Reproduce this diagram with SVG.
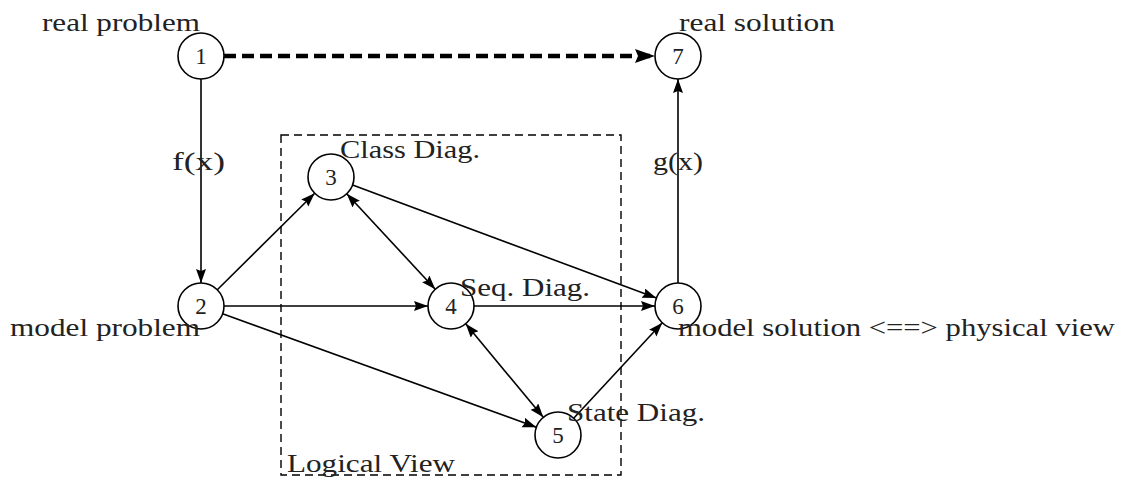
<svg xmlns="http://www.w3.org/2000/svg" width="1131" height="479" viewBox="0 0 1131 479">
<style>
.n{fill:#fff;stroke:#000;stroke-width:1.6}
.d{font-family:"Liberation Serif","Times New Roman",serif;font-size:23px;fill:#222;text-anchor:middle}
.t{font-family:"Liberation Serif","Times New Roman",serif;font-size:26px;fill:#222}
.e{stroke:#000;stroke-width:1.6;fill:none}
</style>
<defs>
<marker id="a" markerUnits="userSpaceOnUse" markerWidth="16" markerHeight="12" refX="14" refY="5" orient="auto-start-reverse">
<path d="M0,0 L14,5 L0,10 L2,5 z" fill="#000"/>
</marker>
<marker id="b" markerUnits="userSpaceOnUse" markerWidth="22" markerHeight="16" refX="20" refY="7" orient="auto">
<path d="M0,0 L20,7 L0,14 L3,7 z" fill="#000"/>
</marker>
</defs>
<rect x="281" y="135" width="340" height="340" fill="none" stroke="#000" stroke-width="1.4" stroke-dasharray="8,5"/>
<g id="connectors">
<line x1="224" y1="56" x2="655" y2="56" stroke="#000" stroke-width="4.5" stroke-dasharray="12,6" marker-end="url(#b)"/>
<line class="e" x1="201" y1="79" x2="201" y2="283" marker-end="url(#a)"/>
<line class="e" x1="678" y1="283" x2="678" y2="79" marker-end="url(#a)"/>
<line class="e" x1="217.3" y1="289.8" x2="314.7" y2="193.2" marker-end="url(#a)"/>
<line class="e" x1="346.7" y1="193.8" x2="435.3" y2="289.2" marker-start="url(#a)" marker-end="url(#a)"/>
<line class="e" x1="352.6" y1="185" x2="656.4" y2="298" marker-end="url(#a)"/>
<line class="e" x1="224" y1="306" x2="428" y2="306" marker-end="url(#a)"/>
<line class="e" x1="474" y1="306" x2="655" y2="306" marker-end="url(#a)"/>
<line class="e" x1="222.6" y1="313.8" x2="536.4" y2="427.2" marker-end="url(#a)"/>
<line class="e" x1="465.7" y1="323.7" x2="543.3" y2="417.3" marker-start="url(#a)" marker-end="url(#a)"/>
<line class="e" x1="573.7" y1="418.2" x2="662.3" y2="322.8" marker-end="url(#a)"/>
</g>
<g id="node1"><circle class="n" cx="201" cy="56" r="23"/><text class="d" x="201" y="64">1</text></g>
<g id="node7"><circle class="n" cx="678" cy="56" r="23"/><text class="d" x="678" y="64">7</text></g>
<g id="node2"><circle class="n" cx="201" cy="306" r="23"/><text class="d" x="201" y="314">2</text></g>
<g id="node3"><circle class="n" cx="331" cy="177" r="23"/><text class="d" x="331" y="185">3</text></g>
<g id="node4"><circle class="n" cx="451" cy="306" r="23"/><text class="d" x="451" y="314">4</text></g>
<g id="node6"><circle class="n" cx="678" cy="306" r="23"/><text class="d" x="678" y="314">6</text></g>
<g id="node5"><circle class="n" cx="558" cy="435" r="23"/><text class="d" x="558" y="443">5</text></g>
<g id="labels">
<text class="t" x="42" y="31" textLength="158" lengthAdjust="spacingAndGlyphs">real problem</text>
<text class="t" x="679" y="31" textLength="156" lengthAdjust="spacingAndGlyphs">real solution</text>
<text class="t" x="172" y="170" textLength="53" lengthAdjust="spacingAndGlyphs">f(x)</text>
<text class="t" x="653" y="170" textLength="50" lengthAdjust="spacingAndGlyphs">g(x)</text>
<text class="t" x="340" y="158" textLength="140" lengthAdjust="spacingAndGlyphs">Class Diag.</text>
<text class="t" x="460" y="296" textLength="130" lengthAdjust="spacingAndGlyphs">Seq. Diag.</text>
<text class="t" x="10" y="336" textLength="190" lengthAdjust="spacingAndGlyphs">model problem</text>
<text class="t" x="678" y="336" textLength="437" lengthAdjust="spacingAndGlyphs">model solution &lt;==&gt; physical view</text>
<text class="t" x="567" y="421" textLength="138" lengthAdjust="spacingAndGlyphs">State Diag.</text>
<text class="t" x="287" y="472" textLength="168" lengthAdjust="spacingAndGlyphs">Logical View</text>
</g>
</svg>
